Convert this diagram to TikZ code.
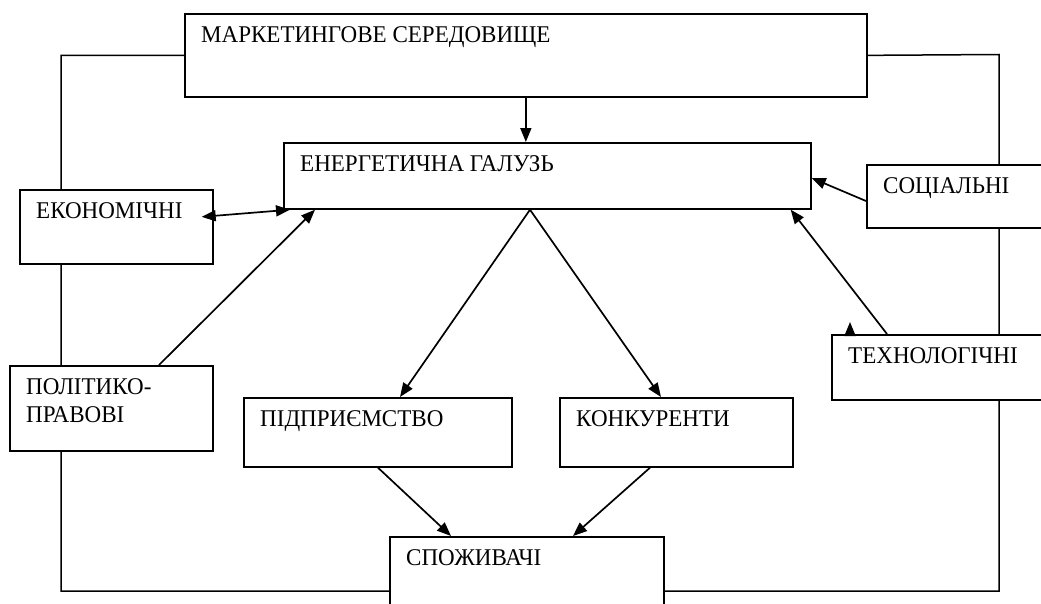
\documentclass[tikz,border=0pt]{standalone}
\usepackage{fontspec}
\setmainfont[FakeStretch=0.96]{Liberation Serif}
\usetikzlibrary{arrows.meta}

\tikzset{
	box/.style = {draw, fill=white, line width=1.7pt, inner sep=0pt, anchor=north west},
	boxtext/.style = {anchor=north west, inner xsep=17pt, inner ysep=13.5pt, align=left, font=\fontsize{24}{28}\selectfont},
	arr/.style = {line width=1.7pt, -{Triangle[length=14pt,width=11pt]}},
	dblarr/.style = {line width=1.7pt, {Triangle[length=14pt,width=11pt]}-{Triangle[length=14pt,width=11pt]}},
}

\begin{document}
\begin{tikzpicture}[x=1pt, y=-1pt]
	\clip (0,0) rectangle (1041,603);
	\node[box, minimum width=682, minimum height=83, label={[boxtext]north west:МАРКЕТИНГОВЕ СЕРЕДОВИЩЕ}] (market) at (184,13) {};
	% outer frame
	\draw[line width=1.5pt] (market.west) -| (61,591) -| (999,54.5) -- (market.east);
	\node[box, minimum width=527, minimum height=66, label={[boxtext]north west:ЕНЕРГЕТИЧНА ГАЛУЗЬ}] (energy) at (283,142) {};
	\node[box, minimum width=193, minimum height=74, label={[boxtext]north west:ЕКОНОМІЧНІ}] (econ) at (19,189) {};
	\node[box, minimum width=200, minimum height=63, label={[boxtext]north west:СОЦІАЛЬНІ}] (social) at (866,164) {};
	\node[box, minimum width=203, minimum height=85, label={[boxtext]north west:ПОЛІТИКО-\\ПРАВОВІ}] (pol) at (9,365) {};
	\node[box, minimum width=230, minimum height=65, label={[boxtext]north west:ТЕХНОЛОГІЧНІ}] (tech) at (831,334) {};
	\node[box, minimum width=268, minimum height=69, label={[boxtext]north west:ПІДПРИЄМСТВО}] (firm) at (243,397) {};
	\node[box, minimum width=233, minimum height=69, label={[boxtext]north west:КОНКУРЕНТИ}] (compet) at (559,397) {};
	\node[box, minimum width=274, minimum height=90, label={[boxtext]north west:СПОЖИВАЧІ}] (cons) at (389,536) {};
	% connectors
	\draw[arr] (market.south) -- (market.south |- energy.north);
	\draw[dblarr] ([xshift=-12pt,yshift=10pt]econ.east) -- ([xshift=7pt]energy.south west);
	\draw[arr] ([xshift=150pt]pol.north west) -- ([xshift=32pt]energy.south west);
	\draw[arr] ([xshift=247pt]energy.south west) -- ([xshift=157pt]firm.north west);
	\draw[arr] ([xshift=247pt]energy.south west) -- ([xshift=102pt]compet.north west);
	\draw[arr] ([yshift=-37pt]social.north west) -- ([yshift=-36pt]energy.north east);
	\draw[arr] ([xshift=56pt]tech.north west) -- ([xshift=-21pt]energy.south east);
	\draw[arr] ([xshift=19pt]tech.north west) -- ++(0,-12);
	\draw[arr] ([xshift=135pt]firm.south west) -- ([xshift=62pt]cons.north west);
	\draw[arr] ([xshift=91pt]compet.south west) -- ([xshift=184pt]cons.north west);
\end{tikzpicture}
\end{document}
